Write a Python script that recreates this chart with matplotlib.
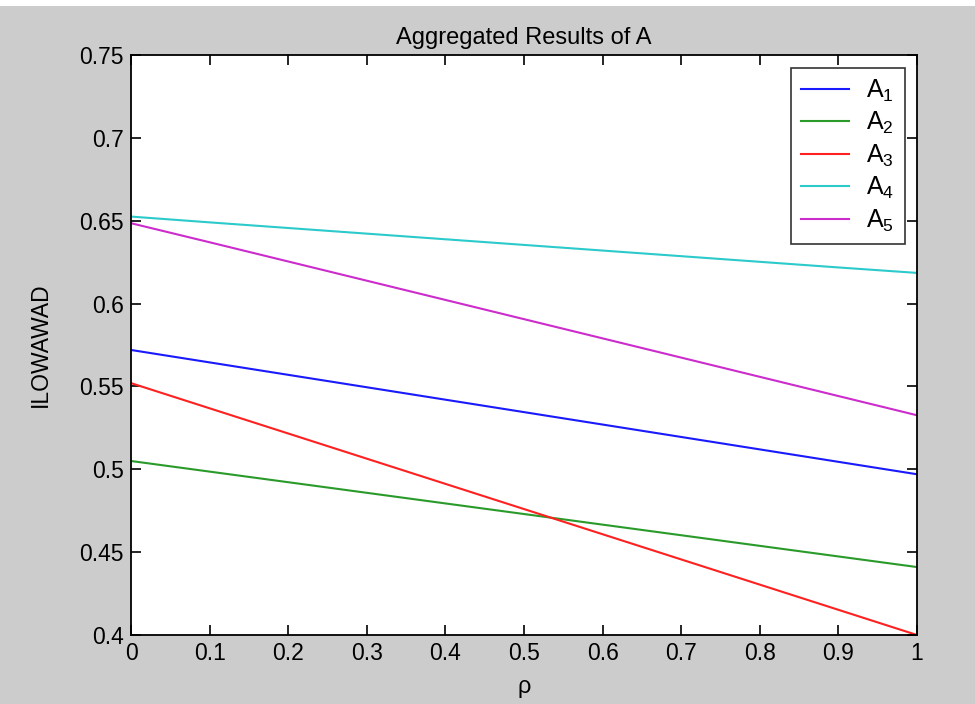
import matplotlib
matplotlib.use("Agg")
import matplotlib.pyplot as plt
from matplotlib.patches import Rectangle

rho = [0.0, 0.1, 0.2, 0.3, 0.4, 0.5, 0.6, 0.7, 0.8, 0.9, 1.0]

a1 = [0.572, 0.5645, 0.557, 0.5495, 0.542, 0.5345, 0.527, 0.5195, 0.512, 0.5045, 0.497]
a2 = [0.505, 0.4986, 0.4922, 0.4858, 0.4794, 0.473, 0.4666, 0.4602, 0.4538, 0.4474, 0.441]
a3 = [0.552, 0.5368, 0.5216, 0.5064, 0.4912, 0.476, 0.4608, 0.4456, 0.4304, 0.4152, 0.400]
a4 = [0.6525, 0.649, 0.6456, 0.6422, 0.6388, 0.6354, 0.632, 0.6286, 0.6252, 0.6218, 0.6185]
a5 = [0.6485, 0.637, 0.6254, 0.6138, 0.6022, 0.5906, 0.579, 0.5674, 0.5558, 0.5442, 0.5326]

series = [a1, a2, a3, a4, a5]
labels = ['A$_1$', 'A$_2$', 'A$_3$', 'A$_4$', 'A$_5$']
colors = ['#1a1aff', '#2a9a2a', '#ff2020', '#2ccaca', '#cc2ccc']

xticks = [0, 0.1, 0.2, 0.3, 0.4, 0.5, 0.6, 0.7, 0.8, 0.9, 1]
xtick_labels = ['0', '0.1', '0.2', '0.3', '0.4', '0.5', '0.6', '0.7', '0.8', '0.9', '1']
yticks = [0.4, 0.45, 0.5, 0.55, 0.6, 0.65, 0.7, 0.75]
ytick_labels = ['0.4', '0.45', '0.5', '0.55', '0.6', '0.65', '0.7', '0.75']

plt.rcParams['font.family'] = ['Liberation Sans', 'DejaVu Sans']
plt.rcParams['mathtext.fontset'] = 'custom'
plt.rcParams['mathtext.rm'] = 'Liberation Sans'
plt.rcParams['mathtext.it'] = 'Liberation Sans'
plt.rcParams['mathtext.default'] = 'regular'

fig = plt.figure(figsize=(9.75, 7.04), dpi=100, facecolor='#cccccc')
# thin white strip along the top edge
fig.patches.append(Rectangle((0, 0.991), 1, 0.009, transform=fig.transFigure,
                             facecolor='white', edgecolor='none'))

ax = fig.add_axes([131 / 975, 1 - 635 / 704, (917 - 131) / 975, (635 - 55) / 704])
ax.set_facecolor('white')

for vals, lab, c in zip(series, labels, colors):
    ax.plot(rho, vals, color=c, linewidth=1.5, label=lab)

ax.set_xlim(0, 1)
ax.set_ylim(0.4, 0.75)
ax.set_xticks(xticks)
ax.set_xticklabels(xtick_labels)
ax.set_yticks(yticks)
ax.set_yticklabels(ytick_labels)
ax.tick_params(direction='in', length=7, width=1.2, top=True, right=True,
               labelsize=16.5, pad=5, colors='black')
for sp in ax.spines.values():
    sp.set_linewidth(1.3)

ax.set_title('Aggregated Results of A', fontsize=17, pad=8)
ax.set_xlabel('ρ', fontsize=17, labelpad=8)
ax.set_ylabel('ILOWAWAD', fontsize=16.5, labelpad=20)

leg = ax.legend(loc='upper right', fontsize=18, frameon=True, fancybox=False,
                edgecolor='black', handlelength=1.9, handletextpad=0.7,
                labelspacing=0.25, borderpad=0.4, borderaxespad=0.5)
leg.get_frame().set_linewidth(1.2)

fig.savefig('out.png', dpi=100, facecolor=fig.get_facecolor())
